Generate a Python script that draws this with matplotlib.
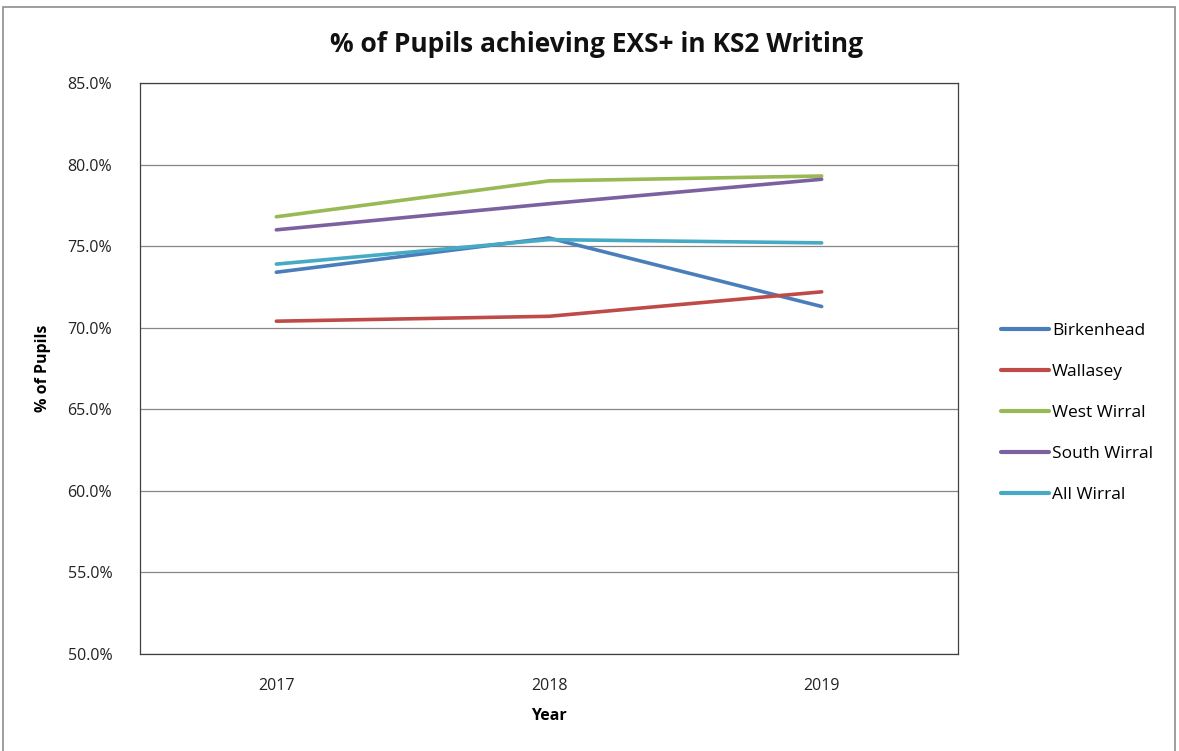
import matplotlib
matplotlib.use("Agg")
import matplotlib.pyplot as plt
from matplotlib.patches import Rectangle
from matplotlib.ticker import FuncFormatter, MultipleLocator

years = ["2017", "2018", "2019"]
series_names = ["Birkenhead", "Wallasey", "West Wirral", "South Wirral", "All Wirral"]
birkenhead = [73.4, 75.5, 71.3]
wallasey = [70.4, 70.7, 72.2]
west_wirral = [76.8, 79.0, 79.3]
south_wirral = [76.0, 77.6, 79.1]
all_wirral = [73.9, 75.4, 75.2]
colors = ["#4A7EBB", "#BE4B48", "#98B954", "#7D60A0", "#46AAC5"]

plt.rcParams['font.family'] = ['Open Sans', 'DejaVu Sans']

fig = plt.figure(figsize=(11.79, 7.51), dpi=100)
ax = fig.add_axes([140/1179, 1-654/751, (958-140)/1179, (654-83)/751])

x = list(range(len(years)))
for name, vals, c in zip(series_names,
                         [birkenhead, wallasey, west_wirral, south_wirral, all_wirral],
                         colors):
    ax.plot(x, vals, color=c, lw=2.6, label=name, solid_capstyle='round', zorder=3)

ax.set_xlim(-0.5, 2.5)
ax.set_ylim(50, 85)
ax.yaxis.set_major_locator(MultipleLocator(5))
ax.yaxis.set_major_formatter(FuncFormatter(lambda v, p: f"{v:.1f}%"))
ax.set_xticks(x)
ax.set_xticklabels(years)
ax.grid(axis='y', color='#868686', lw=0.9, zorder=0)
ax.tick_params(axis='both', length=0, labelsize=11.5, colors='#222222')
ax.tick_params(axis='y', pad=20)
ax.tick_params(axis='x', pad=17)
for s in ax.spines.values():
    s.set_color('#404040')
    s.set_linewidth(0.9)

ax.set_xlabel("Year", fontsize=11.5, fontweight='bold', labelpad=10)
ax.set_ylabel("% of Pupils", fontsize=11.5, fontweight='bold', labelpad=12)
fig.text(597/1179, 1-45/751, "% of Pupils achieving EXS+ in KS2 Writing",
         ha='center', va='center', fontsize=19, fontweight='bold', color='#111111')

leg = fig.legend(loc='upper left', bbox_to_anchor=(985/1179, 1-307/751),
                 frameon=False, fontsize=12.5, handlelength=2.8, handletextpad=0.15,
                 labelspacing=1.43)
for h in leg.get_lines():
    h.set_linewidth(3.0)

fig.patches.append(Rectangle((3/1179, -0.01), (1175-3)/1179, 1-7/751+0.01,
                             transform=fig.transFigure, fill=False,
                             edgecolor='#8c8c8c', lw=1.2))

fig.savefig("out.png", dpi=100)
